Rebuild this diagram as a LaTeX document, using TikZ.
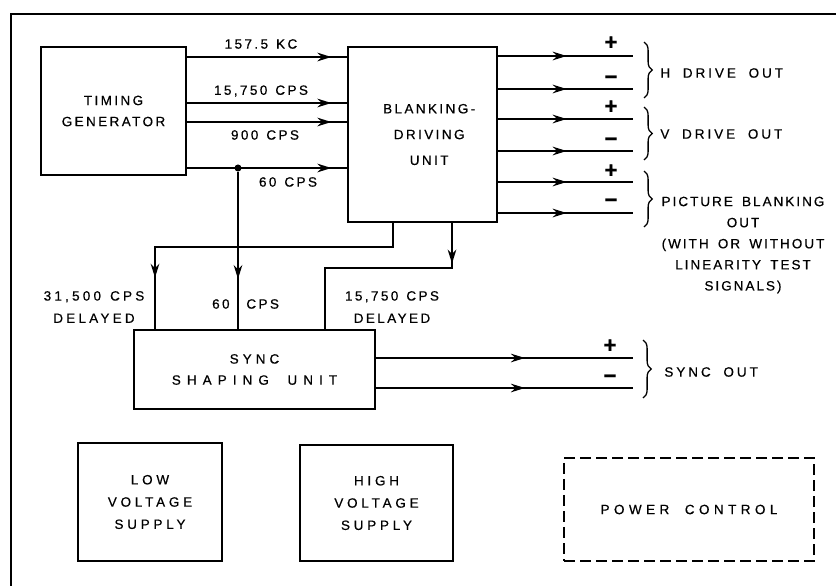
\documentclass[tikz,border=0pt]{standalone}
\usepackage{fontspec}
\setmainfont{Liberation Sans}[LetterSpace=18, WordSpace=1.3, FakeBold=0.5]
\newfontfamily\widefont{Liberation Sans}[LetterSpace=22, WordSpace=1.9, FakeBold=0.5]
\newfontfamily\midfont{Liberation Sans}[LetterSpace=15, WordSpace=1.6, FakeBold=0.5]
\usetikzlibrary{arrows.meta,decorations.markings,decorations.pathreplacing}

\begin{document}
\begin{tikzpicture}[x=0.03cm, y=-0.03cm,
  unitbox/.style={draw, line width=1pt, align=center, inner sep=0pt,
    font=\fontsize{11.5}{18}\selectfont},
  siglabel/.style={inner sep=1pt, align=center, font=\fontsize{11.5}{19}\selectfont},
  widelabel/.style={siglabel, font=\widefont\fontsize{11.5}{19}\selectfont},
  signmark/.style={inner sep=0pt, font=\fontsize{19}{19}\selectfont\bfseries},
  sigline/.style={line width=1.4pt, postaction={decorate},
    decoration={markings, mark=at position #1 with {\arrow{Stealth[length=4.2mm,width=2.6mm]}}}},
  outbrace/.style={decorate, decoration={brace, amplitude=7pt}, line width=1.1pt},
  tapdot/.style={circle, fill, inner sep=0pt, minimum size=6pt}
]
\useasboundingbox (0,0) rectangle (836,586);
\draw[line width=2.2pt] (11,586) -- (11,14) -- (836,14);

\node[unitbox, minimum width=4.35cm, minimum height=3.84cm] (timing) at (113.5,111) {TIMING\\GENERATOR};
\node[unitbox, minimum width=4.47cm, minimum height=5.25cm, font=\fontsize{11.5}{22}\selectfont] (blanking) at (422.5,134.5) {\hspace{0.4cm}BLANKING-\\\hspace{0.4cm}DRIVING\\\hspace{0.4cm}UNIT};
\node[unitbox, minimum width=7.23cm, minimum height=2.37cm] (sync) at (254.5,369.5) {{\addfontfeatures{LetterSpace=30}SYNC}\\{\widefont\addfontfeatures{LetterSpace=45}SHAPING UNIT}};
\node[unitbox, minimum width=4.32cm, minimum height=3.54cm, font=\fontsize{11.5}{19}\selectfont\addfontfeatures{LetterSpace=28}] (lowv) at (150,502) {LOW\\VOLTAGE\\SUPPLY};
\node[unitbox, minimum width=4.59cm, minimum height=3.48cm, font=\fontsize{11.5}{19}\selectfont\addfontfeatures{LetterSpace=28}] (highv) at (376.5,503) {HIGH\\VOLTAGE\\SUPPLY};
\node[unitbox, dash pattern=on 0.33cm off 0.15cm, minimum width=7.5cm, minimum height=3.09cm, font=\widefont\fontsize{11.5}{18}\selectfont\addfontfeatures{LetterSpace=33}] (power) at (689,509.5) {POWER CONTROL};

\node[tapdot] (tap) at (238,168) {};
\draw[sigline=0.9] (timing.east |- 0,57) -- (blanking.west |- 0,57);
\draw[sigline=0.9] (timing.east |- 0,103) -- (blanking.west |- 0,103);
\draw[sigline=0.9] (timing.east |- 0,122) -- (blanking.west |- 0,122);
\draw[sigline=0.9] (timing.east |- tap) -- (blanking.west |- tap);
\node[siglabel] (kc) at (261,44) {157.5 KC};
\node[siglabel] (cps15) at (261,91) {15,750 CPS};
\node[siglabel] (cps900) at (265,135) {900 CPS};
\node[siglabel] (cps60) at (288,182) {60 CPS};

\draw[sigline=0.68] (tap) -- (tap |- sync.north);
\draw[sigline=0.85] (393,0 |- blanking.south) |- (155,247) -- (155,0 |- sync.north);
\draw[sigline=0.175] (452,0 |- blanking.south) |- (325,268) -- (325,0 |- sync.north);
\node[siglabel, font=\fontsize{11.5}{19}\selectfont\addfontfeatures{LetterSpace=24}] (delay31) at (94,307) {31,500 CPS\\DELAYED};
\node[siglabel, anchor=east] (sixty) at (231,304) {60};
\node[siglabel, anchor=west] (sixtycps) at (245,304) {CPS};
\node[siglabel] (delay15) at (392,307) {15,750 CPS\\DELAYED};

\coordinate (hpos) at (633,56);
\coordinate (hneg) at (633,89);
\coordinate (vpos) at (633,119);
\coordinate (vneg) at (633,151);
\coordinate (ppos) at (633,182);
\coordinate (pneg) at (633,213);
\coordinate (spos) at (633,358);
\coordinate (sneg) at (633,388);
\draw[sigline=0.51] (blanking.east |- hpos) -- (hpos);
\draw[sigline=0.51] (blanking.east |- hneg) -- (hneg);
\draw[sigline=0.51] (blanking.east |- vpos) -- (vpos);
\draw[sigline=0.51] (blanking.east |- vneg) -- (vneg);
\draw[sigline=0.51] (blanking.east |- ppos) -- (ppos);
\draw[sigline=0.51] (blanking.east |- pneg) -- (pneg);
\draw[sigline=0.58] (sync.east |- spos) -- (spos);
\draw[sigline=0.58] (sync.east |- sneg) -- (sneg);

\node[signmark] (hplus) at (611,43) {+};
\node[signmark] (hminus) at (611,80) {−};
\node[signmark] (vplus) at (611,107) {+};
\node[signmark] (vminus) at (611,142) {−};
\node[signmark] (pplus) at (611,171) {+};
\node[signmark] (pminus) at (611,203) {−};
\node[signmark] (splus) at (610,346) {+};
\node[signmark] (sminus) at (610,379) {−};

\draw[outbrace] (644,42) -- (644,98);
\draw[outbrace] (644,107) -- (644,160);
\draw[outbrace] (644,171) -- (644,227);
\draw[outbrace] (643,340) -- (643,398);
\node[widelabel, anchor=west] (hdrive) at (659,73) {H DRIVE OUT};
\node[widelabel, anchor=west] (vdrive) at (659,134) {V DRIVE OUT};
\node[siglabel, font=\midfont\fontsize{11.5}{18}\selectfont] (pblank) at (743,245) {PICTURE BLANKING\\OUT\\(WITH OR WITHOUT\\LINEARITY TEST\\SIGNALS)};
\node[widelabel, anchor=west] (syncout) at (663,372) {SYNC OUT};
\end{tikzpicture}
\end{document}
